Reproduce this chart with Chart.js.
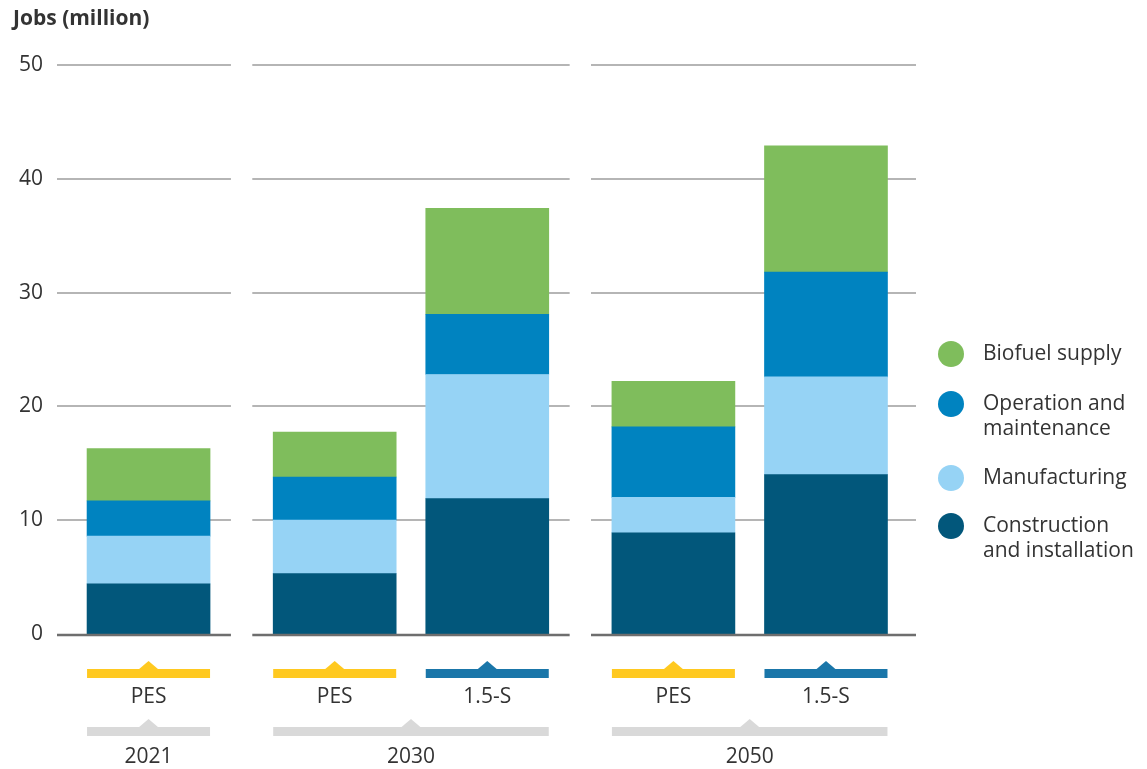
<!DOCTYPE html>
<html>
<head>
<meta charset="utf-8">
<script src="https://cdn.jsdelivr.net/npm/chart.js@4.4.1/dist/chart.umd.min.js"></script>
<style>
  html, body { margin: 0; padding: 0; background: #fff; }
  #wrap { width: 1147px; height: 769px; position: relative; }
</style>
</head>
<body>
<div id="wrap"><canvas id="chart" width="1147" height="769"></canvas></div>
<script>
// Données (millions d'emplois)
const years = ['2021', '2030', '2050'];
const scenarios = ['PES', 'PES', '1.5-S', 'PES', '1.5-S'];
const scenarioYear = [0, 1, 1, 2, 2];
const construction = [4.4, 5.3, 11.9, 8.9, 14.0];
const manufacturing = [4.2, 4.7, 10.9, 3.1, 8.6];
const operation = [3.1, 3.8, 5.3, 6.2, 9.2];
const biofuel = [4.6, 3.95, 9.3, 4.0, 11.1];
const yTicks = [0, 10, 20, 30, 40, 50];

const FONT = '"Open Sans", "Liberation Sans", sans-serif';
const TEXT = '#333333';
const GROUP_GAP = 0.22;   // espace supplémentaire entre les années
const HALF_BREAK = 0.07;  // demi-largeur des coupures de la grille
const X_MIN = -0.6, X_MAX = 5.03;

// position de chaque barre sur l'axe x
const pos = scenarios.map((s, i) => i + scenarioYear[i] * GROUP_GAP);

// étendue des lignes de grille par année
const segments = years.map((y, g) => {
  const idx = scenarioYear.map((v, i) => v === g ? i : -1).filter(i => i >= 0);
  const first = idx[0], last = idx[idx.length - 1];
  const a = g === 0 ? X_MIN : (pos[first - 1] + pos[first]) / 2 + HALF_BREAK;
  const b = g === years.length - 1 ? X_MAX : (pos[last] + pos[last + 1]) / 2 - HALF_BREAK;
  return { a, b, first, last };
});

const series = [
  { label: ['Construction', 'and installation'], data: construction, color: '#02577b' },
  { label: ['Manufacturing'], data: manufacturing, color: '#96d3f5' },
  { label: ['Operation and', 'maintenance'], data: operation, color: '#0083c0' },
  { label: ['Biofuel supply'], data: biofuel, color: '#7fbd5c' }
];

const BAR_W = 123;

const decor = {
  id: 'decor',
  beforeDatasetsDraw(chart) {
    const { ctx, scales: { x, y } } = chart;
    ctx.save();
    ctx.strokeStyle = '#b5b5b5';
    ctx.lineWidth = 2;
    yTicks.forEach(t => {
      if (t === 0) return;
      const py = Math.round(y.getPixelForValue(t));
      segments.forEach(s => {
        ctx.beginPath();
        ctx.moveTo(x.getPixelForValue(s.a), py);
        ctx.lineTo(x.getPixelForValue(s.b), py);
        ctx.stroke();
      });
    });
    ctx.restore();
  },
  afterDatasetsDraw(chart) {
    const { ctx, scales: { x, y } } = chart;
    ctx.save();
    ctx.strokeStyle = '#6e6e6e';
    ctx.lineWidth = 2.5;
    const py = y.getPixelForValue(0) + 1;
    segments.forEach(s => {
      ctx.beginPath();
      ctx.moveTo(x.getPixelForValue(s.a), py);
      ctx.lineTo(x.getPixelForValue(s.b), py);
      ctx.stroke();
    });
    ctx.restore();
  },
  afterDraw(chart) {
    const { ctx, scales: { x } } = chart;
    ctx.save();

    // titre de l'axe
    ctx.fillStyle = TEXT;
    ctx.font = 'bold 21px ' + FONT;
    ctx.textAlign = 'left';
    ctx.textBaseline = 'middle';
    ctx.fillText('Jobs (million)', 13, 19);

    // marqueur avec petit triangle
    function marker(x0, x1, top, color) {
      const cx = (x0 + x1) / 2;
      ctx.fillStyle = color;
      ctx.fillRect(x0, top, x1 - x0, 9);
      ctx.beginPath();
      ctx.moveTo(cx - 10, top + 0.5);
      ctx.lineTo(cx, top - 8);
      ctx.lineTo(cx + 10, top + 0.5);
      ctx.closePath();
      ctx.fill();
    }

    ctx.font = '21px ' + FONT;
    ctx.textAlign = 'center';
    scenarios.forEach((s, i) => {
      const cx = x.getPixelForValue(pos[i]);
      marker(cx - BAR_W / 2, cx + BAR_W / 2, 669, s === 'PES' ? '#ffc920' : '#1a76a9');
      ctx.fillStyle = TEXT;
      ctx.fillText(s, cx, 697);
    });

    segments.forEach((s, g) => {
      const x0 = x.getPixelForValue(pos[s.first]) - BAR_W / 2;
      const x1 = x.getPixelForValue(pos[s.last]) + BAR_W / 2;
      marker(x0, x1, 727, '#d9d9d9');
      ctx.fillStyle = TEXT;
      ctx.fillText(years[g], (x0 + x1) / 2, 757);
    });

    // légende
    const legendY = [354, 404, 478, 526];
    ctx.textAlign = 'left';
    series.slice().reverse().forEach((s, k) => {
      ctx.fillStyle = s.color;
      ctx.beginPath();
      ctx.arc(951, legendY[k], 13, 0, Math.PI * 2);
      ctx.fill();
      ctx.fillStyle = TEXT;
      s.label.forEach((line, j) => ctx.fillText(line, 983, legendY[k] + j * 25.5));
    });
    ctx.restore();
  }
};

const ctx = document.getElementById('chart').getContext('2d');
const chart = new Chart(ctx, {
  type: 'bar',
  data: {
    datasets: series.map(s => ({
      label: s.label.join(' '),
      data: s.data.map((v, i) => ({ x: pos[i], y: v })),
      backgroundColor: s.color,
      borderWidth: 0,
      barThickness: BAR_W
    }))
  },
  options: {
    responsive: false,
    animation: false,
    layout: { padding: { top: 65, bottom: 135, right: 231, left: 0 } },
    plugins: { legend: { display: false }, tooltip: { enabled: false } },
    scales: {
      x: { type: 'linear', stacked: true, offset: false, min: X_MIN, max: X_MAX, display: false },
      y: {
        stacked: true,
        min: 0,
        max: 50,
        afterFit(scale) { scale.width = 57; },
        afterBuildTicks(scale) { scale.ticks = yTicks.map(v => ({ value: v })); },
        grid: { display: false, drawTicks: false },
        border: { display: false },
        ticks: { padding: 14, color: TEXT, font: { family: FONT, size: 21 } }
      }
    }
  },
  plugins: [decor]
});
</script>
</body>
</html>
